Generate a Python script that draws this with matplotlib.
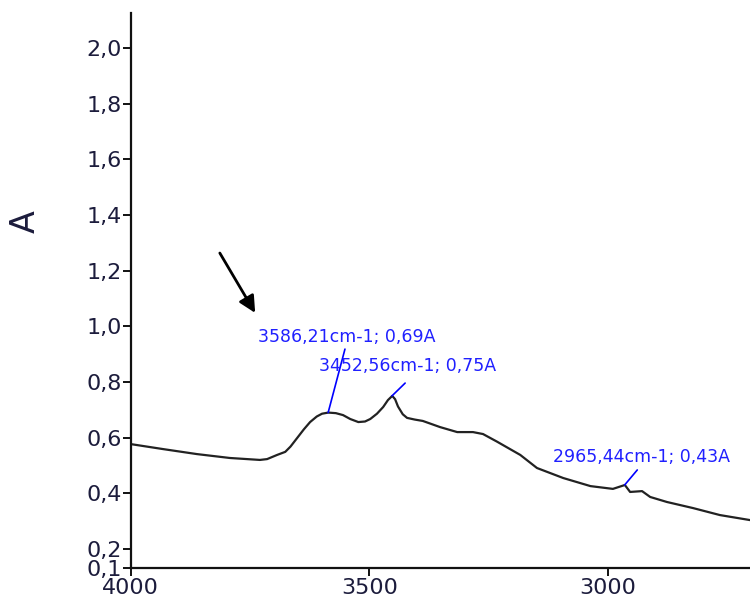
import matplotlib
matplotlib.use("Agg")
import matplotlib.pyplot as plt

# spectrum (wavenumber cm-1, absorbance)
wavenumber = [4000, 3932, 3861, 3792, 3729, 3714, 3693, 3676, 3665, 3651,
              3637, 3624, 3610, 3599, 3586, 3570, 3555, 3540, 3523, 3509,
              3498, 3484, 3471, 3461, 3452, 3446, 3440, 3430, 3421, 3405,
              3388, 3352, 3316, 3283, 3262, 3233, 3184, 3149, 3094, 3037,
              2990, 2965, 2954, 2929, 2912, 2877, 2822, 2766, 2703]
absorbance = [0.577, 0.559, 0.541, 0.527, 0.520, 0.523, 0.538, 0.549, 0.568, 0.599,
              0.630, 0.656, 0.676, 0.686, 0.690, 0.688, 0.681, 0.667, 0.656, 0.658,
              0.667, 0.686, 0.710, 0.735, 0.750, 0.738, 0.712, 0.684, 0.671, 0.665,
              0.660, 0.638, 0.620, 0.620, 0.613, 0.586, 0.538, 0.491, 0.455, 0.426,
              0.416, 0.430, 0.405, 0.408, 0.387, 0.369, 0.347, 0.322, 0.304]

# peak labels
peak_x = [3586.21, 3452.56, 2965.44]
peak_y = [0.69, 0.75, 0.43]
peak_labels = ["3586,21cm-1; 0,69A", "3452,56cm-1; 0,75A", "2965,44cm-1; 0,43A"]
label_x = [3547, 3419, 2931]
label_y = [0.961, 0.857, 0.531]
leader_x = [3551, 3425, 2939]
leader_y = [0.918, 0.796, 0.484]

yticks = [0.132, 0.2, 0.4, 0.6, 0.8, 1.0, 1.2, 1.4, 1.6, 1.8, 2.0]
yticklabels = ["0,1", "0,2", "0,4", "0,6", "0,8", "1,0", "1,2", "1,4", "1,6", "1,8", "2,0"]
xticks = [4000, 3500, 3000]

txt = "#1c1c3c"

fig = plt.figure(figsize=(7.5, 6.05), dpi=100)
ax = fig.add_axes([0.174, 0.0612, 0.826, 0.9173])

ax.plot(wavenumber, absorbance, color="#222222", lw=1.6)

for px, py, lab, tx, ty, lx, ly in zip(peak_x, peak_y, peak_labels,
                                       label_x, label_y, leader_x, leader_y):
    ax.annotate("", xy=(px, py), xytext=(lx, ly),
                arrowprops=dict(arrowstyle="-", color="blue", lw=1.2,
                                shrinkA=0, shrinkB=0))
    ax.text(tx, ty, lab, color="#2020ff", fontsize=12.5, ha="center", va="center")

# black arrow pointing at the first band
ax.annotate("", xy=(3739, 1.048), xytext=(3813, 1.263),
            arrowprops=dict(arrowstyle="-|>", color="black", lw=2,
                            mutation_scale=25, shrinkA=0, shrinkB=0))

ax.set_xlim(4000, 2703)
ax.set_ylim(0.132, 2.125)
ax.set_xticks(xticks)
ax.set_xticklabels([str(t) for t in xticks])
ax.set_yticks(yticks)
ax.set_yticklabels(yticklabels)

for side in ["top", "right"]:
    ax.spines[side].set_visible(False)
for side in ["left", "bottom"]:
    ax.spines[side].set_linewidth(1.6)
    ax.spines[side].set_color("#111111")

ax.tick_params(axis="both", direction="out", length=6, width=1.4,
               colors="#111111", labelcolor=txt, labelsize=16)
ax.tick_params(axis="y", pad=0)
ax.tick_params(axis="x", pad=1)

ax.set_ylabel("A", fontsize=24, color=txt)
ax.yaxis.set_label_coords(-0.143, 0.625)

fig.savefig("out.png", dpi=100)
